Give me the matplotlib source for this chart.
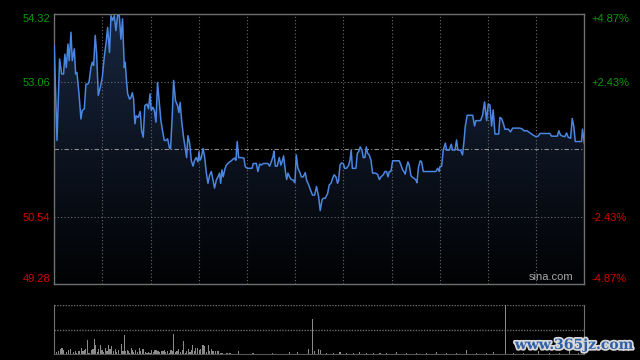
import numpy as np
import matplotlib
matplotlib.use('Agg')
import matplotlib.pyplot as plt
import matplotlib.patheffects as pe
from matplotlib.colors import LinearSegmentedColormap
from matplotlib.patches import Polygon

# intraday price, minutes since open (HK session: 330 minutes)
minutes = [0, 1.7, 3.3, 4.6, 5.8, 6.6, 7.5, 8.5, 9.3, 10.4, 11.2, 12.5, 13.3, 14.1, 15.4, 16.6, 17.4, 18.7, 19.7,
           20.8, 21.6, 22.8, 23.7, 24.5, 25.5, 26.4, 27.4, 28.6, 29.9, 31.1, 32.4, 33.2, 34.4, 35.3, 36.3, 37.4,
           38.4, 39.4, 40.5, 41.5, 42.5, 43.6, 44.2, 44.8, 45.7, 46.9, 47.7, 48.6, 49.4, 50.2, 51.0, 52.3, 53.5,
           54.4, 55.4, 56.4, 57.7, 58.7, 59.6, 60.4, 61.4, 62.3, 63.3, 64.3, 65.2, 66.4, 67.6, 68.5, 69.5, 70.6,
           71.6, 72.4, 73.5, 74.3, 75.5, 76.8, 77.6, 78.4, 79.3, 80.5, 81.5, 82.4, 83.2,
           84.3, 85.3, 86.4, 87.4, 88.4, 89.5, 90.1, 90.7, 91.5, 92.6, 93.6, 94.7, 95.7, 96.7, 97.8, 98.8, 99.8,
           100.9, 101.9, 102.9, 103.6, 104.4, 105.2, 106.1, 107.1, 108.1, 109.2, 110.2, 111.3, 112.3, 113.1,
           113.9, 114.8, 116.4, 118.1, 118.9, 120.2, 121.6, 123.1, 123.9, 125.8, 126.8, 127.9, 128.9, 130.1,
           132.0, 133.0, 134.1, 135.1, 136.2, 136.8, 137.6, 138.8, 140.1, 141.1, 142.0, 142.8, 143.8, 144.7,
           145.5, 146.5, 147.6, 148.8, 149.8, 150.7, 151.7, 153.0, 153.8, 155.0, 156.3, 157.1, 158.4, 159.6,
           160.8, 162.1, 163.3, 164.6, 165.6, 166.7, 167.5, 168.7,
           169.2, 170.2, 171.2, 172.3, 173.3, 174.3, 175.4, 176.4, 177.0, 177.9, 178.9, 180.0, 180.8, 182.0,
           183.3, 184.1, 184.9, 185.6, 186.8, 187.8, 188.7, 189.5, 190.5, 191.6, 192.4, 193.4, 194.3, 195.1,
           196.1, 197.2, 198.2, 199.9, 201.3, 202.4, 203.4, 204.9, 205.9, 206.9, 207.8, 208.6, 209.6, 210.7,
           212.7, 214.8, 215.9, 216.9, 217.7, 218.5, 219.4, 220.2, 221.0, 222.1, 223.1, 224.2, 225.2, 225.8,
           226.8, 227.9, 228.7, 229.8, 231.4, 233.5, 235.6, 237.6, 238.7, 239.7,
           240.1, 241.2, 242.2, 243.5, 244.3, 246.0, 247.2, 248.0, 249.5, 250.5, 251.3, 253.0, 254.2, 255.1,
           255.9, 257.1, 258.8, 260.5, 261.7, 262.5, 264.0, 265.4, 266.7, 267.9, 269.2, 270.2, 271.3, 272.3,
           273.3, 274.4, 275.4, 276.7, 277.5, 278.5, 279.6, 280.6, 282.7, 284.1, 285.4, 287.4, 289.9, 291.6,
           292.4, 294.5, 296.2, 298.2, 299.9, 301.3, 302.4, 304.5, 306.5, 308.6, 309.6, 311.7, 313.2, 314.2,
           315.2, 316.5, 317.9, 319.0, 320.0, 321.5, 322.5, 323.5, 324.4, 325.6, 327.3, 328.3, 328.9, 329.8, 330]
prices = [53.73, 51.96, 53.48, 53.20, 53.20, 53.57, 53.32, 53.76, 53.45, 53.98, 53.45, 53.67, 53.20, 53.23, 52.83,
          52.36, 52.52, 52.55, 53.01, 53.01, 53.04, 53.32, 53.42, 53.36, 53.92, 53.57, 52.80, 52.95, 53.14, 53.51,
          53.82, 54.07, 53.60, 54.29, 54.20, 54.29, 54.01, 54.29, 54.29, 53.85, 54.23, 53.32, 53.42, 53.14, 52.83,
          52.73, 52.76, 52.85, 52.73, 52.27, 52.42, 52.39, 52.50, 52.14, 52.02, 52.61, 52.64, 52.55, 52.83, 52.52,
          52.58, 52.52, 52.30, 53.04, 52.73, 52.33, 52.11, 51.96, 51.96, 51.99, 51.83, 51.80, 52.45, 53.08, 52.70,
          52.61, 52.48, 52.67, 52.33, 52.02, 51.83, 51.64, 52.05,
          51.91, 51.59, 51.48, 51.59, 51.64, 51.56, 51.75, 51.59, 51.63, 51.81, 51.66, 51.35, 51.16, 51.31, 51.38,
          51.22, 51.07, 51.22, 51.28, 51.35, 51.16, 51.41, 51.28, 51.41, 51.50, 51.53, 51.56, 51.58, 51.61, 51.63,
          51.59, 51.94, 51.64, 51.64, 51.63, 51.47, 51.44, 51.44, 51.44, 51.53, 51.53, 51.38, 51.52, 51.50, 51.53,
          51.53, 51.53, 51.48, 51.56, 51.66, 51.76, 51.48, 51.48, 51.64, 51.50, 51.58, 51.67, 51.41, 51.23, 51.35,
          51.28, 51.23, 51.22, 51.17, 51.69, 51.44, 51.36, 51.28, 51.28, 51.36, 51.22, 51.13, 51.03, 50.94, 50.94,
          51.10, 50.91, 50.65, 50.85, 50.88, 50.88,
          50.91, 50.97, 51.13, 51.16, 51.25, 51.32, 51.28, 51.16, 51.21, 51.50, 51.54, 51.53, 51.44, 51.44, 51.50,
          51.59, 51.78, 51.44, 51.44, 51.44, 51.72, 51.75, 51.84, 51.77, 51.64, 51.64, 51.84, 51.72, 51.69, 51.59,
          51.35, 51.35, 51.33, 51.23, 51.28, 51.32, 51.38, 51.38, 51.28, 51.38, 51.38, 51.58, 51.58, 51.58, 51.50,
          51.41, 51.38, 51.33, 51.47, 51.56, 51.50, 51.30, 51.27, 51.25, 51.22, 51.17, 51.47, 51.58, 51.56, 51.38,
          51.38, 51.38, 51.38, 51.38, 51.44, 51.38,
          51.47, 51.48, 51.78, 51.91, 51.78, 51.78, 51.89, 51.78, 51.78, 51.97, 51.78, 51.78, 51.69, 51.94, 52.22,
          52.43, 52.43, 52.43, 52.23, 52.33, 52.33, 52.33, 52.43, 52.68, 52.33, 52.64, 52.62, 52.23, 52.53, 52.08,
          52.08, 52.08, 52.39, 52.37, 52.28, 52.17, 52.17, 52.12, 52.19, 52.19, 52.19, 52.17, 52.14, 52.14, 52.10,
          52.06, 52.03, 52.04, 52.09, 52.09, 52.09, 52.09, 52.04, 52.04, 52.04, 52.14, 52.06, 52.04, 52.03, 52.10,
          52.02, 52.00, 52.37, 52.22, 51.94, 51.94, 51.94, 51.94, 52.17, 51.97, 51.91]

# volume (relative units), minutes since open
vol_minutes = [1.5, 2.7, 3.8, 4.8, 5.6, 6.9, 7.7, 8.7, 10.0, 11.0, 12.1, 13.1, 14.1, 15.4, 16.8, 17.9, 18.9, 19.7,
               20.6, 21.6, 23.1, 24.1, 24.9, 25.8, 26.8, 27.8, 28.7, 29.7, 30.7, 31.8, 32.8, 33.6, 34.7, 35.7,
               36.8, 38.0, 38.8, 39.9, 40.7, 41.7, 42.8, 43.6, 44.4, 45.5, 46.3, 47.1, 48.0, 48.8, 49.6, 50.7,
               51.7, 52.9, 53.8, 54.8, 55.6, 56.7, 57.7, 58.8, 59.6, 60.6, 61.7, 62.7, 63.7, 64.6, 65.6, 66.6,
               67.7, 68.5, 69.5, 70.6, 71.6, 72.7, 73.5, 74.5, 75.6, 76.4, 77.6, 78.7, 79.7, 80.3, 81.6, 82.6,
               83.4, 84.5, 85.5, 86.2, 87.2, 88.0, 89.3, 90.3, 91.3, 92.6, 93.4, 94.7, 95.9, 96.9, 97.8, 98.6,
               99.4, 100.5, 101.5, 102.3, 103.4, 104.2, 105.0, 106.1, 107.1, 108.1, 109.4, 110.4, 111.5, 114.6,
               115.6, 117.7, 119.8, 123.3, 124.3, 127.0, 130.1, 132.2, 136.0, 137.4, 140.5, 142.6, 146.3, 148.0,
               151.3, 152.5, 154.0, 155.5, 158.2, 160.6, 161.9, 164.4, 166.0, 169.6, 173.7, 177.9, 182.0, 186.2,
               190.3, 194.5, 198.6, 202.8, 206.9, 213.1, 219.4, 225.6, 231.8, 238.0, 244.3, 250.5, 256.7, 262.9,
               269.2, 273.3, 280.8, 285.8, 292.0, 301.3, 308.6, 314.8, 320.6, 326.2]
volumes = [7, 10, 15, 20, 12, 2, 7, 12, 17, 2, 7, 9, 4, 9, 20, 9, 14, 15, 44, 4, 12, 17, 47, 27, 8, 17, 29, 12, 7,
           20, 10, 27, 17, 24, 10, 17, 7, 12, 2, 32, 10, 57, 9, 12, 10, 4, 20, 14, 7, 12, 7, 20, 10, 15, 15, 8, 4,
           7, 4, 12, 8, 12, 12, 9, 6, 10, 10, 12, 8, 10, 5, 12, 9, 60, 7, 9, 15, 6, 14, 39, 5, 10, 17, 7, 12, 27,
           10, 20, 20, 14, 17, 27, 24, 7, 27, 9, 17, 9, 9, 9, 9, 9, 4, 4, 4, 2, 5, 5, 5, 2, 2, 9, 2, 2, 2, 3, 3,
           2, 2, 2, 5, 2, 2, 2, 6, 2, 6, 2, 2, 2, 15, 105, 9, 15, 12, 4, 5, 8, 4, 5, 6, 4, 5, 4, 5, 7, 4, 5, 4, 6,
           4, 4, 13, 5, 4, 6, 300, 4, 4, 10, 5, 4, 12, 5]

# axis ticks
left_ticks = [49.28, 50.54, 53.06, 54.32]
left_labels = ['49.28', '50.54', '53.06', '54.32']
right_labels = ['-4.87%', '-2.43%', '+2.43%', '+4.87%']
prev_close = 51.80

green = '#0a9a0a'
red = '#d40000'
grid_c = '#6a6a6a'

fig = plt.figure(figsize=(6.4, 3.6), dpi=100, facecolor='black')
plt.rcParams['font.family'] = ['Liberation Sans', 'DejaVu Sans']

# price panel
ax = fig.add_axes([0.0848, 0.2111, 0.8281, 0.75], facecolor='black')
cmap = LinearSegmentedColormap.from_list('fill', ['#010203', '#18263f'])
grad = np.linspace(1, 0, 256).reshape(-1, 1)
img = ax.imshow(grad, extent=[0, 330, 49.28, 54.32], aspect='auto', cmap=cmap, vmin=0, vmax=1, zorder=1)
verts = [(minutes[0], 49.28)] + list(zip(minutes, prices)) + [(minutes[-1], 49.28)]
clip = Polygon(verts, closed=True, facecolor='none', edgecolor='none')
ax.add_patch(clip)
img.set_clip_path(clip)

for m in range(30, 330, 30):
    ax.axvline(m, color=grid_c, lw=0.8, ls=(0, (1, 2)), zorder=2)
for y in [50.54, 53.06]:
    ax.axhline(y, color=grid_c, lw=0.8, ls=(0, (1, 2)), zorder=2)
ax.axhline(prev_close, color='#8c8c8c', lw=0.8, ls=(0, (4, 2, 1, 2)), zorder=2)

ax.plot(minutes, prices, color='#4a86e0', lw=1.1, zorder=3)

ax.set_xlim(0, 330)
ax.set_ylim(49.28, 54.32)
ax.set_xticks([])
ax.set_yticks(left_ticks)
ax.set_yticklabels(left_labels)
ax.tick_params(axis='y', length=0, pad=3, labelsize=8)
for lbl, v in zip(ax.get_yticklabels(), left_ticks):
    lbl.set_color(green if v > prev_close else red)
ax.get_yticklabels()[0].set_va('bottom')
ax.get_yticklabels()[-1].set_va('top')
for s in ax.spines.values():
    s.set_color('#707070')
    s.set_linewidth(1)

ax2 = ax.twinx()
ax2.set_ylim(49.28, 54.32)
ax2.set_yticks(left_ticks)
ax2.set_yticklabels(right_labels)
ax2.tick_params(axis='y', length=0, pad=5, labelsize=8)
for lbl, v in zip(ax2.get_yticklabels(), left_ticks):
    lbl.set_color(green if v > prev_close else red)
ax2.get_yticklabels()[0].set_va('bottom')
ax2.get_yticklabels()[-1].set_va('top')
for s in ax2.spines.values():
    s.set_visible(False)

ax.text(0.979, 0.006, 'sina.com', transform=ax.transAxes, ha='right', va='bottom',
        color='#a8a8a8', fontsize=8, zorder=4)

# volume panel
vx = fig.add_axes([0.0848, 0.0153, 0.8281, 0.1375], facecolor='black')
vx.bar(vol_minutes, volumes, width=0.7, color='#8a8a8a', zorder=2)
vx.set_xlim(0, 330)
vx.set_ylim(0, 148)
vx.axhline(148, color=grid_c, lw=1, ls=(0, (1, 1)), zorder=1)
vx.axhline(74, color=grid_c, lw=1, ls=(0, (1, 1)), zorder=1)
vx.set_xticks([])
vx.set_yticks([])
vx.spines['top'].set_visible(False)
vx.spines['bottom'].set_color('#555555')
vx.spines['bottom'].set_linestyle((0, (1, 1)))
vx.spines['left'].set_color('#707070')
vx.spines['right'].set_color('#707070')

# site watermark
fig.text(0.897, 0.042, 'www.365jz.com', ha='center', va='center', color='#2f5fa8',
         fontsize=10, fontweight='bold', family='DejaVu Serif',
         path_effects=[pe.withStroke(linewidth=2.5, foreground='#d8d8d8')])

fig.savefig('out.png', dpi=100, facecolor='black')
